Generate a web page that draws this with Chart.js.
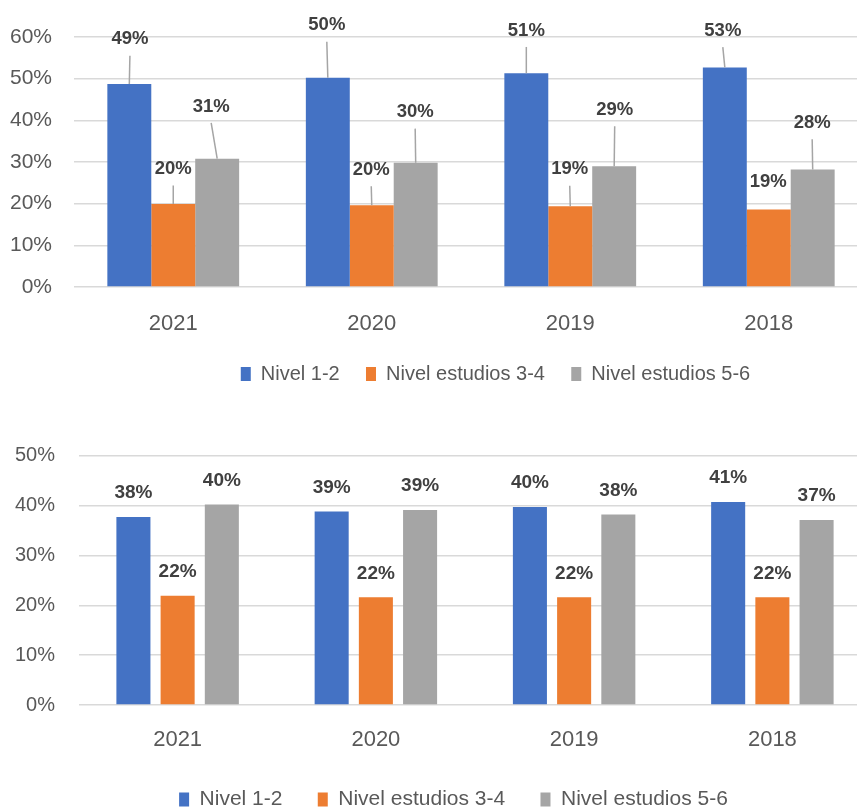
<!DOCTYPE html>
<html>
<head>
<meta charset="utf-8">
<script src="https://cdn.jsdelivr.net/npm/chart.js@4.4.1/dist/chart.umd.min.js"></script>
<style>
    html, body { margin: 0; padding: 0; background: #fff; overflow: hidden; width: 857px; height: 811px; }
    canvas { position: absolute; left: 0; }
    #topChart { top: 0; }
    #bottomChart { top: 410px; }
</style>
</head>
<body>
<canvas id="topChart" width="991" height="394"></canvas>
<canvas id="bottomChart" width="907" height="410"></canvas>
<script>
// Data (percent)
const years = ['2021', '2020', '2019', '2018'];
const seriesNames = ['Nivel 1-2', 'Nivel estudios 3-4', 'Nivel estudios 5-6'];

const topNivel12 = [48.7, 50.2, 51.3, 52.7];
const topNivel34 = [19.9, 19.6, 19.4, 18.6];
const topNivel56 = [30.8, 29.8, 29.0, 28.2];
const topAxisMax = 60;

const bottomNivel12 = [37.7, 38.8, 39.7, 40.7];
const bottomNivel34 = [21.9, 21.6, 21.6, 21.6];
const bottomNivel56 = [40.2, 39.1, 38.2, 37.1];
const bottomAxisMax = 50;

const colors = ['#4472c4', '#ed7d31', '#a5a5a5'];
const FONT = "'Liberation Sans', Arial, sans-serif";

// Draws the bold value labels, with leader lines where the label was moved up
const barLabels = {
    id: 'barLabels',
    afterDatasetsDraw(chart, args, opts) {
        const ctx = chart.ctx;
        ctx.save();
        ctx.font = 'bold ' + opts.size + 'px ' + FONT;
        ctx.fillStyle = '#404040';
        ctx.textAlign = 'center';
        ctx.textBaseline = 'middle';
        chart.data.datasets.forEach((ds, di) => {
            chart.getDatasetMeta(di).data.forEach((bar, i) => {
                const lift = opts.lift ? opts.lift[di][i] : opts.defaultLift;
                const dx = opts.shift ? opts.shift[di][i] : 0;
                const lx = bar.x + dx;
                const ly = bar.y - lift;
                if (opts.leaders && lift > 32) {
                    ctx.strokeStyle = '#a5a5a5';
                    ctx.lineWidth = 1.5;
                    ctx.beginPath();
                    ctx.moveTo(lx, ly + 18.5);
                    ctx.lineTo(bar.x, bar.y);
                    ctx.stroke();
                }
                // 'middle' sits the digits a little high, nudge them down
                ctx.fillText(Math.round(ds.data[i]) + '%', lx, ly + 2);
            });
        });
        ctx.restore();
    }
};

function makeChart(id, values, s) {
    const ctx = document.getElementById(id).getContext('2d');
    return new Chart(ctx, {
        type: 'bar',
        data: {
            labels: years,
            datasets: values.map((v, i) => ({
                label: seriesNames[i],
                data: v,
                backgroundColor: colors[i],
                borderWidth: 0,
                categoryPercentage: s.catPct,
                barPercentage: s.barPct
            }))
        },
        plugins: [barLabels],
        options: {
            responsive: false,
            animation: false,
            layout: { padding: { top: s.padTop, bottom: 0, left: 0, right: 0 } },
            plugins: {
                tooltip: { enabled: false },
                legend: {
                    position: 'bottom',
                    labels: {
                        boxWidth: 10,
                        boxHeight: 14,
                        color: '#595959',
                        padding: s.legendPad,
                        font: { family: FONT, size: s.legendSize }
                    }
                },
                barLabels: s.labels
            },
            scales: {
                x: {
                    grid: { display: false, drawTicks: false, tickLength: 0 },
                    border: { display: false },
                    ticks: {
                        color: '#595959',
                        padding: s.xPad,
                        font: { family: FONT, size: 22 }
                    },
                    afterFit: function(scale) { scale.height = s.xHeight; }
                },
                y: {
                    min: 0,
                    max: s.max,
                    grid: { color: '#d9d9d9', lineWidth: 1.5, drawTicks: false },
                    border: { display: false },
                    ticks: {
                        stepSize: 10,
                        color: '#595959',
                        padding: s.yPad,
                        font: { family: FONT, size: s.ySize },
                        callback: function(value) {
                            return value + '%';
                        }
                    },
                    afterFit: function(scale) { scale.width = s.yWidth; }
                },
                // empty axis on the right, only to keep the legend centred like the original
                spacer: {
                    type: 'linear',
                    position: 'right',
                    grid: { display: false },
                    border: { display: false },
                    ticks: { display: false },
                    afterFit: function(scale) { scale.width = s.rightWidth; }
                }
            }
        }
    });
}

makeChart('topChart', [topNivel12, topNivel34, topNivel56], {
    max: topAxisMax,
    catPct: 0.664,
    barPct: 1.0,
    padTop: 37,
    yWidth: 74,
    rightWidth: 123,
    yPad: 22,
    ySize: 21,
    xPad: 23.8,
    xHeight: 50.7,
    legendPad: 26.3,
    legendSize: 20,
    labels: {
        size: 18.5,
        leaders: true,
        lift: [[46.8, 54.5, 44.8, 38.8], [37, 37.5, 39, 29.7], [54.2, 52.7, 58.5, 48.8]],
        shift: [[0.6, -1, 0, -2], [0, -0.5, -0.5, -0.5], [-6, -0.5, 0.5, -0.5]]
    }
});

makeChart('bottomChart', [bottomNivel12, bottomNivel34, bottomNivel56], {
    max: bottomAxisMax,
    catPct: 0.669,
    barPct: 0.77,
    padTop: 45.7,
    yWidth: 78.5,
    rightWidth: 35.5,
    yPad: 23.5,
    ySize: 20,
    xPad: 21.8,
    xHeight: 48.7,
    legendPad: 35.3,
    legendSize: 21,
    labels: {
        size: 19,
        leaders: false,
        defaultLift: 26
    }
});
</script>
</body>
</html>
